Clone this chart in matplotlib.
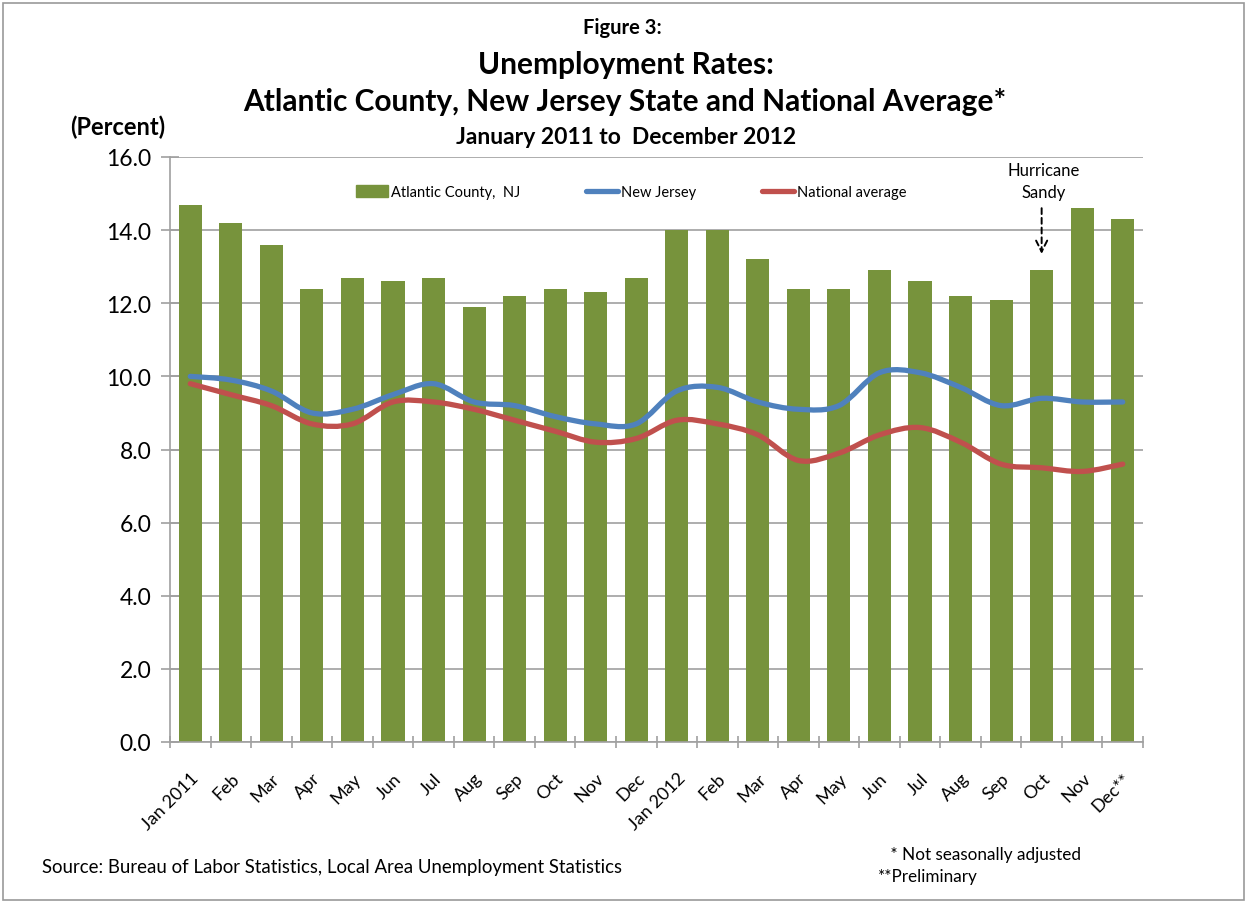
import matplotlib
matplotlib.use("Agg")
import matplotlib.pyplot as plt
import numpy as np
from matplotlib.path import Path
from matplotlib.patches import PathPatch, Rectangle
from matplotlib.lines import Line2D

plt.rcParams['font.family'] = ['Lato', 'DejaVu Sans']

months = ["Jan 2011", "Feb", "Mar", "Apr", "May", "Jun", "Jul", "Aug", "Sep", "Oct", "Nov", "Dec",
          "Jan 2012", "Feb", "Mar", "Apr", "May", "Jun", "Jul", "Aug", "Sep", "Oct", "Nov", "Dec**"]
atlantic = [14.7, 14.2, 13.6, 12.4, 12.7, 12.6, 12.7, 11.9, 12.2, 12.4, 12.3, 12.7,
            14.0, 14.0, 13.2, 12.4, 12.4, 12.9, 12.6, 12.2, 12.1, 12.9, 14.6, 14.3]
new_jersey = [10.0, 9.9, 9.6, 9.0, 9.1, 9.5, 9.8, 9.3, 9.2, 8.9, 8.7, 8.7,
              9.6, 9.7, 9.3, 9.1, 9.2, 10.1, 10.1, 9.7, 9.2, 9.4, 9.3, 9.3]
national = [9.8, 9.5, 9.2, 8.7, 8.7, 9.3, 9.3, 9.1, 8.8, 8.5, 8.2, 8.3,
            8.8, 8.7, 8.4, 7.7, 7.9, 8.4, 8.6, 8.2, 7.6, 7.5, 7.4, 7.6]

GREEN = "#77933C"
BLUE = "#4F81BD"
RED = "#C0504D"
GRID = "#A0A0A0"


def smooth_path(xs, ys, t=1/6):
    """Excel-style smoothed line: cubic Bezier segments through data points."""
    xs = np.asarray(xs, float)
    ys = np.asarray(ys, float)
    n = len(xs)
    verts = [(xs[0], ys[0])]
    codes = [Path.MOVETO]
    for i in range(n - 1):
        p0 = (xs[i - 1], ys[i - 1]) if i > 0 else (xs[i], ys[i])
        p1 = (xs[i], ys[i])
        p2 = (xs[i + 1], ys[i + 1])
        p3 = (xs[i + 2], ys[i + 2]) if i + 2 < n else (xs[i + 1], ys[i + 1])
        c1 = (p1[0] + (p2[0] - p0[0]) * t, p1[1] + (p2[1] - p0[1]) * t)
        c2 = (p2[0] - (p3[0] - p1[0]) * t, p2[1] - (p3[1] - p1[1]) * t)
        verts += [c1, c2, p2]
        codes += [Path.CURVE4] * 3
    return Path(verts, codes)


fig = plt.figure(figsize=(12.47, 9.03), dpi=100)
ax = fig.add_axes([170 / 1247, 1 - 743 / 903, (1143 - 170) / 1247, (743 - 158) / 903])

x = np.arange(len(months))
ax.bar(x, atlantic, width=0.57, color=GREEN, zorder=2, label="Atlantic County,  NJ")
for vals, col in [(new_jersey, BLUE), (national, RED)]:
    pp = PathPatch(smooth_path(x, vals), facecolor="none", edgecolor=col, lw=3.8,
                   capstyle="round", joinstyle="round", zorder=3)
    ax.add_patch(pp)

ax.set_xlim(-0.5, len(months) - 0.5)
ax.set_ylim(0, 16)
ax.set_yticks(np.arange(0, 16.01, 2))
ax.set_yticklabels([f"{v:.1f}" for v in np.arange(0, 16.01, 2)], fontsize=16.5)
ax.yaxis.grid(True, color=GRID, lw=1.2, zorder=0)
ax.set_axisbelow(True)
for s in ["top", "right"]:
    ax.spines[s].set_visible(False)
for s in ["left", "bottom"]:
    ax.spines[s].set_color(GRID)
    ax.spines[s].set_linewidth(1.2)
ax.tick_params(axis="y", direction="inout", length=13, width=1.2, color=GRID, pad=7)
ax.set_xticks(x)
ax.set_xticklabels(months, rotation=45, ha="right", va="top", rotation_mode="anchor", fontsize=13)
ax.tick_params(axis="x", length=0, pad=20)
ax.set_xticks(np.arange(-0.5, len(months), 1), minor=True)
ax.tick_params(axis="x", which="minor", direction="inout", length=8, width=1.2, color=GRID)

handles = [Rectangle((0, 0), 1, 1, color=GREEN),
           Line2D([0], [0], color=BLUE, lw=3.8, solid_capstyle="round"),
           Line2D([0], [0], color=RED, lw=3.8, solid_capstyle="round")]
ax.legend(handles, ["Atlantic County,  NJ", "New Jersey", "National average"], ncol=3,
          loc="center", bbox_to_anchor=((631 - 170) / 973, (743 - 193) / 585), frameon=False,
          fontsize=10.5, columnspacing=4.5, handlelength=2.2, handletextpad=0.2, handleheight=0.9)

# Hurricane Sandy annotation
ax.annotate("", xy=(21, 13.35), xytext=(21, 14.6),
            arrowprops=dict(arrowstyle="->,head_length=0.8,head_width=0.4", color="black",
                            lw=1.4, linestyle=(0, (3, 2)), shrinkA=0, shrinkB=0))
ax.text(21.05, 15.35, "Hurricane\nSandy", ha="center", va="center", fontsize=12, linespacing=1.45)

# Titles
fig.text(622 / 1247, 1 - 28 / 903, "Figure 3:", ha="center", va="center", fontsize=14.5, fontweight="bold")
fig.text(626 / 1247, 1 - 65 / 903, "Unemployment Rates:", ha="center", va="center", fontsize=21.5, fontweight="bold")
fig.text(625 / 1247, 1 - 102 / 903, "Atlantic County, New Jersey State and National Average*",
         ha="center", va="center", fontsize=21.5, fontweight="bold")
fig.text(626 / 1247, 1 - 138 / 903, "January 2011 to  December 2012", ha="center", va="center",
         fontsize=16.5, fontweight="bold")
fig.text(118 / 1247, 1 - 127 / 903, "(Percent)", ha="center", va="center", fontsize=17, fontweight="bold")

fig.text(42 / 1247, 1 - 868 / 903, "Source: Bureau of Labor Statistics, Local Area Unemployment Statistics",
         ha="left", va="center", fontsize=13.4)
fig.text(886 / 1247, 1 - 855 / 903, " * Not seasonally adjusted", ha="left", va="center", fontsize=12.3)
fig.text(878 / 1247, 1 - 877 / 903, "**Preliminary", ha="left", va="center", fontsize=12.3)

# outer frame
fig.patches.append(Rectangle((3 / 1247, 2 / 903), 1 - 6 / 1247, 1 - 6 / 903, transform=fig.transFigure,
                             fill=False, edgecolor="#999999", lw=1.2))

fig.savefig("out.png", dpi=100)
